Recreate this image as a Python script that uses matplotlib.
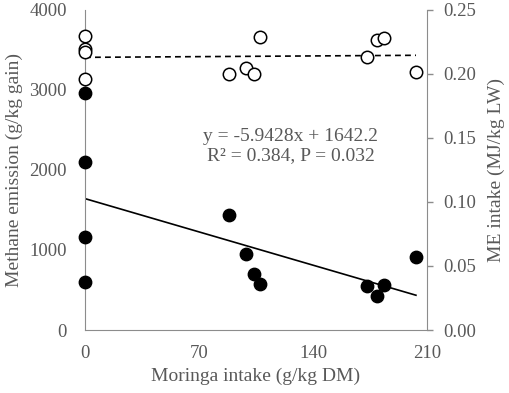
import matplotlib.pyplot as plt
import numpy as np

plt.rcParams['font.family'] = ['Liberation Serif', 'DejaVu Serif']

# moringa intake (g/kg DM)
intake = [0, 0, 0, 0, 88.6, 99.0, 104, 107.6, 173, 179, 183.8, 203.2]
# methane emission (g/kg gain) - filled circles, left axis
methane = [2966, 2104, 1158, 600, 1434, 946, 704, 579, 550, 425, 562, 917]
# ME intake (MJ/kg LW) - open circles, right axis
me_intake = [0.2297, 0.2195, 0.2172, 0.1961, 0.2003, 0.2044, 0.2000, 0.2291,
             0.2135, 0.2266, 0.2279, 0.2018]

slope, icpt = -5.9428, 1642.2
me_fit = [0.2130, 0.2146]

grey = '#595959'
spine = '#8c8c8c'

fig = plt.figure(figsize=(5.1, 3.93), dpi=100)
ax = fig.add_axes([0.1667, 0.1603, 0.6706, 0.8143])
ax2 = ax.twinx()

xl = np.array([0, max(intake)])
ax.plot(xl, icpt + slope * xl, color='black', lw=1.2, zorder=2)
ax.scatter(intake, methane, s=80, color='black', zorder=3, clip_on=False)

ax2.plot(xl, me_fit, color='black', lw=1.2, ls=(0, (3.5, 2.5)), zorder=2)
ax2.scatter(intake, me_intake, s=80, facecolor='white', edgecolor='black',
            linewidths=1.1, zorder=3, clip_on=False)

ax.set_xlim(0, 210)
ax.set_ylim(0, 4000)
ax2.set_ylim(0, 0.25)
ax.set_xticks([0, 70, 140, 210])
ax.set_yticks([0, 1000, 2000, 3000, 4000])
ax2.set_yticks([0, 0.05, 0.10, 0.15, 0.20, 0.25])
ax2.set_yticklabels(['%.2f' % v for v in ax2.get_yticks()])

for a in (ax, ax2):
    for s in a.spines.values():
        s.set_color(spine)
    a.spines['top'].set_visible(False)
ax.spines['right'].set_visible(False)
ax2.spines['left'].set_visible(False)
ax2.spines['bottom'].set_visible(False)

ax.tick_params(axis='both', length=0, labelsize=13.5, labelcolor=grey)
ax.tick_params(axis='y', pad=13)
ax.tick_params(axis='x', pad=11)
ax2.tick_params(axis='y', length=4, width=1, color=spine, labelsize=13.5,
                labelcolor=grey, pad=8)

ax.set_xlabel('Moringa intake (g/kg DM)', fontsize=14, color=grey, labelpad=4)
ax.set_ylabel('Methane emission (g/kg gain)', fontsize=14, color=grey, labelpad=5)
ax2.set_ylabel('ME intake (MJ/kg LW)', fontsize=14, color=grey, labelpad=8)

ax.text(0.602, 0.575, 'y = -5.9428x + 1642.2\nR² = 0.384, P = 0.032',
        transform=ax.transAxes, ha='center', va='center', fontsize=14,
        color=grey, linespacing=1.1)

fig.savefig('out.png', dpi=100)
